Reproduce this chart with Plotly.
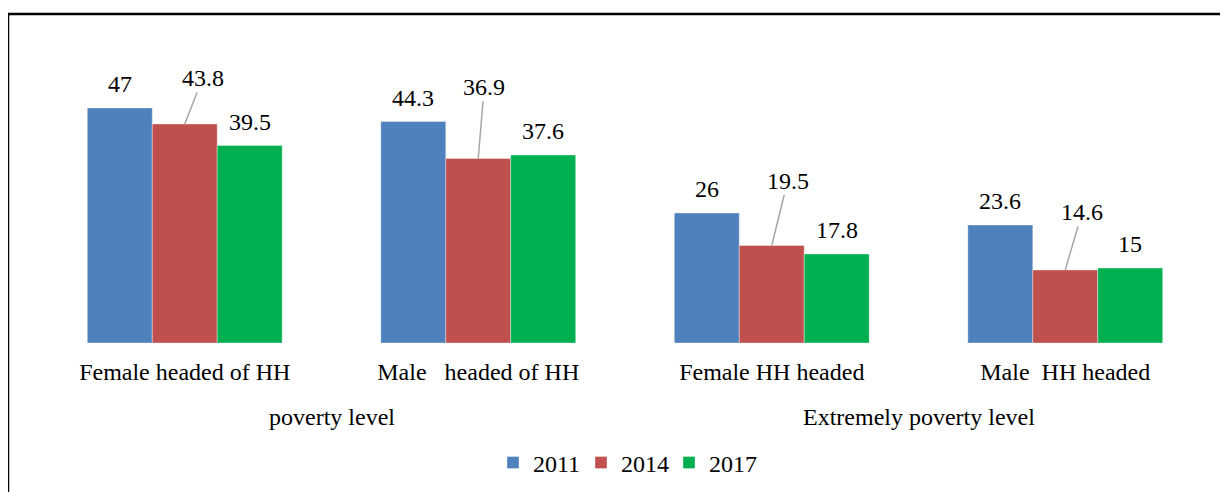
import plotly.graph_objects as go

categories = ["Female headed of HH", "Male\u00a0\u00a0\u00a0headed of HH", "Female HH headed", "Male\u00a0\u00a0HH headed"]
groups = ["poverty level", "Extremely poverty level"]
years = ["2011", "2014", "2017"]
v2011 = [47, 44.3, 26, 23.6]
v2014 = [43.8, 36.9, 19.5, 14.6]
v2017 = [39.5, 37.6, 17.8, 15]
series = [v2011, v2014, v2017]
colors = ["#4F81BD", "#C0504D", "#00B050"]

FONT = "'Times New Roman', 'Liberation Serif', Times, serif"
FS = 24

OFF = 8  # page body margin
W, H = 1228, 492
L, T = 38 - OFF, 93 - OFF
plot_w, plot_h = 1174, 250
R = W - L - plot_w
B = H - T - plot_h
BASE = 343  # baseline y in page pixels


def py(page_y):
    return (BASE - page_y) / plot_h


fig = go.Figure()
xidx = list(range(len(categories)))
for name, vals, col in zip(years, series, colors):
    fig.add_trace(go.Bar(x=xidx, y=vals, name=name,
                         marker=dict(color=col, line=dict(width=0.6, color="rgba(255,255,255,0.6)"))))

bar_px = 65
lead = [(18, -46), (6, -72), (16, -65), (17, -58)]
ann = []
for i in xidx:
    ann.append(dict(x=i, y=v2011[i], text=str(v2011[i]), showarrow=False, xshift=-bar_px, yshift=24,
                    yanchor="middle", font=dict(family=FONT, size=FS, color="#000")))
    ann.append(dict(x=i, y=v2017[i], text=str(v2017[i]), showarrow=False, xshift=bar_px, yshift=24,
                    yanchor="middle", font=dict(family=FONT, size=FS, color="#000")))
    ax, ay = lead[i]
    ann.append(dict(x=i, y=v2014[i], text=str(v2014[i]), showarrow=True, arrowhead=0, arrowwidth=1.5,
                    arrowcolor="#A6A6A6", ax=ax, ay=ay, standoff=0,
                    font=dict(family=FONT, size=FS, color="#000")))
for gi, g in enumerate(groups):
    ann.append(dict(x=2 * gi + 0.5, xref="x", y=py(417), yref="paper", text=g, showarrow=False,
                    yanchor="middle", font=dict(family=FONT, size=FS, color="#000")))

fig.update_layout(
    width=W, height=H,
    margin=dict(l=L, r=R, t=T, b=B),
    plot_bgcolor="white", paper_bgcolor="white",
    barmode="group", bargap=0.336, bargroupgap=0,
    showlegend=True,
    legend=dict(orientation="h", x=0.5, xanchor="center", y=py(463), yanchor="middle",
                font=dict(family=FONT, size=FS, color="#000"), itemwidth=30, tracegroupgap=0,
                entrywidth=43, entrywidthmode="pixels"),
    xaxis=dict(tickmode="array", tickvals=xidx, ticktext=categories, showline=False, showgrid=False,
               zeroline=False, ticks="", ticklabelstandoff=12,
               tickfont=dict(family=FONT, size=FS, color="#000"), range=[-0.5, 3.5]),
    yaxis=dict(range=[0, 50], visible=False, showgrid=False, zeroline=False),
    annotations=ann,
    shapes=[dict(type="rect", xref="paper", yref="paper",
                 x0=(8 - 38) / plot_w, x1=1.2, y0=-2, y1=py(14),
                 line=dict(color="black", width=2.5))],
)

fig.write_html("out.html")
